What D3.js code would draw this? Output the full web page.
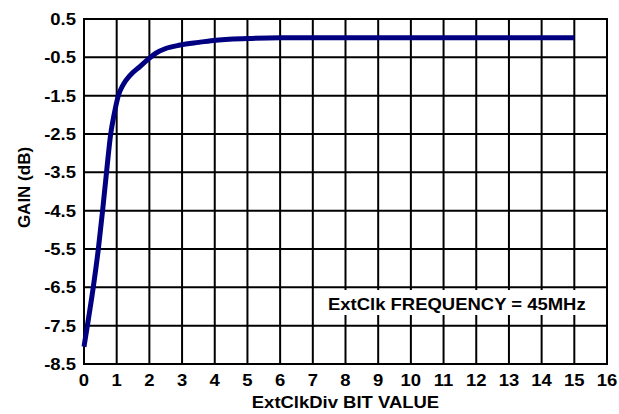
<!DOCTYPE html>
<html>
<head>
<meta charset="utf-8">
<script src="https://cdn.jsdelivr.net/npm/d3@7"></script>
<style>
  html, body { margin: 0; padding: 0; background: #fff; }
  svg { display: block; }
  text { font-family: "Liberation Sans", Arial, Helvetica, sans-serif; font-weight: bold; fill: #000; }
</style>
</head>
<body>
<svg id="chart" width="619" height="414"></svg>
<script>
// ---- data ----
const bitValue = [0, 0.14, 0.285, 0.44, 0.57, 0.69, 0.82, 0.92, 1.05, 1.2, 1.41, 1.71, 1.95, 2.2, 2.5, 2.94, 3.5, 3.96, 5, 6, 7, 8, 9, 10, 11, 12, 13, 14, 15];
const gainDb   = [-8.05, -7.3, -6.49, -5.49, -4.49, -3.49, -2.48, -2.0, -1.5, -1.21, -0.97, -0.74, -0.56, -0.39, -0.27, -0.18, -0.11, -0.06, -0.01, 0.01, 0.01, 0.01, 0.01, 0.01, 0.01, 0.01, 0.01, 0.01, 0.01];
const xTicks = [0,1,2,3,4,5,6,7,8,9,10,11,12,13,14,15,16];
const yTicks = [0.5,-0.5,-1.5,-2.5,-3.5,-4.5,-5.5,-6.5,-7.5,-8.5];
const yTickLabels = ["0.5","-0.5","-1.5","-2.5","-3.5","-4.5","-5.5","-6.5","-7.5","-8.5"];
const xTitle = "ExtClkDiv BIT VALUE";
const yTitle = "GAIN (dB)";
const note = "ExtClk FREQUENCY = 45MHz";

// ---- layout ----
const svg = d3.select("#chart");
const mLeft = 84, mRight = 607, mTop = 19, mBottom = 364;
const x = d3.scaleLinear().domain([0, 16]).range([mLeft, mRight]);
const y = d3.scaleLinear().domain([-8.5, 0.5]).range([mBottom, mTop]);
const fs = 16.5, sx = 1.12;

function hText(g, str, px, py, anchor) {
  return g.append("text")
    .attr("transform", `translate(${px},${py}) scale(${sx},1)`)
    .attr("text-anchor", anchor)
    .style("font-size", fs + "px")
    .text(str);
}

// grid
const grid = svg.append("g").attr("stroke", "#000").attr("stroke-width", 2);
grid.selectAll("line.v").data(xTicks).join("line").attr("class", "v")
  .attr("x1", d => x(d)).attr("x2", d => x(d))
  .attr("y1", mTop).attr("y2", mBottom);
grid.selectAll("line.h").data(yTicks).join("line").attr("class", "h")
  .attr("x1", mLeft).attr("x2", mRight)
  .attr("y1", d => y(d)).attr("y2", d => y(d));

// annotation box
svg.append("rect").attr("x", 325).attr("y", 290).attr("width", 280).attr("height", 25).attr("fill", "#fff");
hText(svg, note, 328, 310, "start");

// border
svg.append("rect").attr("x", mLeft).attr("y", mTop).attr("width", mRight - mLeft).attr("height", mBottom - mTop)
  .attr("fill", "none").attr("stroke", "#000").attr("stroke-width", 2);

// curve
const pts = bitValue.map((v, i) => [v, gainDb[i]]);
svg.append("path").datum(pts)
  .attr("fill", "none").attr("stroke", "#000080").attr("stroke-width", 5)
  .attr("d", d3.line().x(d => x(d[0])).y(d => y(d[1])).curve(d3.curveMonotoneX));

// tick labels
const yl = svg.append("g");
yTicks.forEach((t, i) => hText(yl, yTickLabels[i], 76, y(t) + 6, "end"));
const xl = svg.append("g");
xTicks.forEach(t => hText(xl, String(t), x(t), 386, "middle"));

// axis titles
hText(svg, xTitle, (mLeft + mRight) / 2, 408, "middle");
svg.append("text")
  .attr("transform", `translate(30,${(mTop + mBottom) / 2 - 4}) rotate(-90)`)
  .attr("text-anchor", "middle")
  .style("font-size", "17px")
  .text(yTitle);
</script>
</body>
</html>
